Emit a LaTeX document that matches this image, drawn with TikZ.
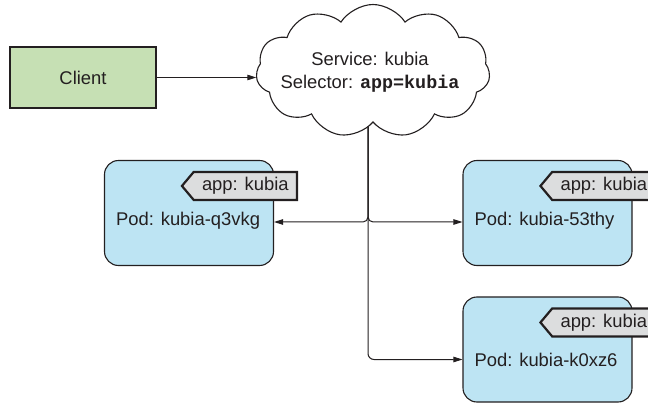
\documentclass[tikz,border=0pt]{standalone}
\usepackage{fontspec}
\setmainfont{Liberation Sans}
\setmonofont{Liberation Mono}
\usetikzlibrary{shapes.symbols,arrows.meta,calc}
\definecolor{clientgreen}{HTML}{C6E0B4}
\definecolor{podblue}{HTML}{BDE4F3}
\definecolor{taggray}{HTML}{DCDDDE}
\definecolor{ink}{HTML}{231F20}
\begin{document}
\begin{tikzpicture}[x=1pt,y=-1pt,
  every node/.style={font=\fontsize{18.4}{23}\selectfont, text=ink},
  conn/.style={draw=ink, line width=1pt},
  arr/.style={conn, -{Triangle[length=9pt,width=5.5pt]}},
  clientbox/.style={draw=ink, line width=1.2pt, fill=clientgreen, minimum width=146pt, minimum height=61pt, inner sep=0},
  svcloud/.style={cloud, cloud puffs=11, cloud puff arc=115, aspect=1.8, draw=ink, line width=1.1pt, fill=white, minimum width=234pt, minimum height=133pt, inner sep=0},
  podbox/.style={draw=ink, line width=1.1pt, fill=podblue, rounded corners=14pt, minimum width=169pt, minimum height=105pt, inner sep=0},
  tagbox/.style={signal, signal to=west, signal pointer angle=100, draw=ink, line width=2.2pt, fill=taggray, minimum width=115pt, minimum height=28pt, inner sep=0, anchor=east},
  podtext/.style={anchor=west, inner sep=0},
]
\useasboundingbox (0,0) rectangle (648,403);
\node[clientbox] (client) at (83,77.5) {Client};

\node[podbox] (pod1) at (189,213) {};
\node[podbox] (pod2) at (547.5,213) {};
\node[podbox] (pod3) at (547.5,349.5) {};

\node[tagbox] (tag1) at ($(pod1.north east)+(24,26)$) {app: kubia};
\node[tagbox] (tag2) at ($(pod2.north east)+(24,26)$) {app: kubia};
\node[tagbox] (tag3) at ($(pod3.north east)+(24,26)$) {app: kubia};

\node[podtext] (t1) at ($(pod1.west)+(12,8)$) {Pod: kubia-q3vkg};
\node[podtext] (t2) at ($(pod2.west)+(12,8)$) {Pod: kubia-53thy};
\node[podtext] (t3) at ($(pod3.west)+(12,10)$) {Pod: kubia-k0xz6};

\coordinate (j) at (368,222);
\coordinate (top) at (368,110);

\draw[arr, rounded corners=5pt] (top) -- (j) -- (pod1.east |- j);
\draw[arr, rounded corners=5pt] (top) -- (j) -- (pod2.west |- j);
\draw[arr, rounded corners=6pt] (top) -- (j |- t3) -- (pod3.west |- t3);

\node[svcloud] (svc) at (373,71) {};
\node[align=center, inner sep=0] (svctext) at (370,72) {Service: kubia\\Selector: {\ttfamily\bfseries app=kubia}};
\draw[arr] (client.east) -- (svc.west |- client.east);
\end{tikzpicture}
\end{document}
